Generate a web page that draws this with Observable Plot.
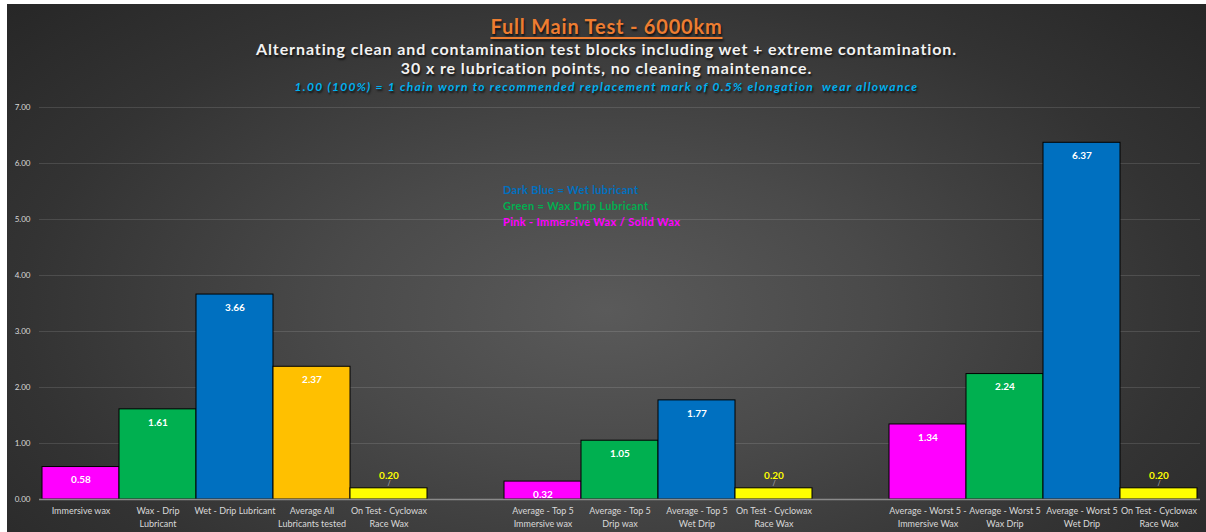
<!DOCTYPE html>
<html>
<head>
<meta charset="utf-8">
<script src="https://cdn.jsdelivr.net/npm/d3@7"></script>
<script src="https://cdn.jsdelivr.net/npm/@observablehq/plot@0.6"></script>
<style>
  html, body { margin: 0; padding: 0; background: #ffffff; }
  #chart {
    position: absolute; left: 7px; top: 4px; width: 1199px; height: 528px; overflow: hidden;
    background: radial-gradient(ellipse 75% 95% at 50% 58%, #5a5a5a 0%, #4a4a4a 30%, #333333 65%, #222222 100%);
    font-family: Lato, "Open Sans", sans-serif;
  }
  .t { position: absolute; left: 0; width: 100%; text-align: center; white-space: nowrap; text-shadow: 1px 2px 2px rgba(0,0,0,0.7); }
  #title { top: 10px; font-size: 20px; font-weight: bold; color: #ED7D31; letter-spacing: 0.8px; text-decoration: underline; text-underline-offset: 3px; text-decoration-thickness: 2px; }
  #sub1 { top: 35px; font-size: 16px; font-weight: bold; color: #f2f2f2; letter-spacing: 0.9px; }
  #sub2 { top: 54px; font-size: 16px; font-weight: bold; color: #f2f2f2; letter-spacing: 0.9px; }
  #sub3 { top: 75px; font-size: 12px; font-weight: bold; font-style: italic; color: #00B0F0; letter-spacing: 1.3px; }
  #legend { position: absolute; left: 496px; top: 178px; font-size: 11px; font-weight: bold; line-height: 16px; letter-spacing: 0.35px; }
  #plot { position: absolute; left: 0; top: 91px; }
</style>
</head>
<body>
<div id="chart">
  <div class="t" id="title">Full Main Test - 6000km</div>
  <div class="t" id="sub1">Alternating clean and contamination test blocks including wet + extreme contamination.</div>
  <div class="t" id="sub2">30 x re lubrication points, no cleaning maintenance.</div>
  <div class="t" id="sub3">1.00 (100%) = 1 chain worn to recommended replacement mark of 0.5% elongation&nbsp; wear allowance</div>
  <div id="plot"></div>
  <div id="legend"></div>
</div>
<script>
// ---- data ----
const categories = [
  "Immersive wax", "Wax - Drip\nLubricant", "Wet - Drip Lubricant", "Average All\nLubricants tested", "On Test - Cyclowax\nRace Wax",
  "",
  "Average - Top 5\nImmersive wax", "Average - Top 5\nDrip wax", "Average - Top 5\nWet Drip", "On Test - Cyclowax\nRace Wax",
  "",
  "Average - Worst 5 -\nImmersive Wax", "Average - Worst 5\nWax Drip", "Average - Worst 5\nWet Drip", "On Test - Cyclowax\nRace Wax"
];
const values = [0.58, 1.61, 3.66, 2.37, 0.20, null, 0.32, 1.05, 1.77, 0.20, null, 1.34, 2.24, 6.37, 0.20];
const colors = ["#FF00FF", "#00B050", "#0070C0", "#FFC000", "#FFFF00", null, "#FF00FF", "#00B050", "#0070C0", "#FFFF00", null, "#FF00FF", "#00B050", "#0070C0", "#FFFF00"];
const yTicks = [0, 1, 2, 3, 4, 5, 6, 7];
const legendLines = [
  {text: "Dark Blue = Wet lubricant", color: "#0070C0"},
  {text: "Green = Wax Drip Lubricant", color: "#00B050"},
  {text: "Pink - Immersive Wax / Solid Wax", color: "#FF00FF"}
];

// ---- build ----
const rows = categories.map((c, i) => ({i, label: c, value: values[i], color: colors[i]}));
const bars = rows.filter(d => d.value != null);
const inside = bars.filter(d => d.color !== "#FFFF00");
const above = bars.filter(d => d.color === "#FFFF00");

const plot = Plot.plot({
  width: 1199,
  height: 437,
  marginTop: 12,
  marginBottom: 33,
  marginLeft: 32,
  marginRight: 6,
  style: {background: "transparent", fontFamily: "Lato, 'Open Sans', sans-serif"},
  x: {domain: rows.map(d => d.i), padding: 0, axis: null, label: null},
  y: {domain: [0, 7], axis: null, label: null},
  marks: [
    Plot.gridY(yTicks, {stroke: "#ffffff", strokeOpacity: 0.12, strokeWidth: 1.2}),
    Plot.axisY(yTicks, {tickSize: 0, tickPadding: 9, fontSize: 8, fill: "#d9d9d9", label: null, tickFormat: d => d.toFixed(2)}),
    Plot.axisX({tickSize: 0, tickPadding: 6, fontSize: 9, fill: "#d9d9d9", lineHeight: 1.4, label: null, tickFormat: i => categories[i]}),
    Plot.barY(bars, {x: "i", y: "value", fill: "color", stroke: "#000000", strokeWidth: 1}),
    Plot.ruleY([0], {stroke: "#8a8a8a", strokeWidth: 1.5}),
    Plot.text(inside, {x: "i", y: "value", text: d => d.value.toFixed(2), dy: 13, fill: "#ffffff", fontWeight: "bold", fontSize: 10}),
    Plot.text(above, {x: "i", y: "value", text: d => d.value.toFixed(2), dy: -13, fill: "#FFFF00", fontWeight: "bold", fontSize: 10}),
    Plot.text(above, {x: "i", y: "value", text: () => "/", dy: -5, fill: "#bfbfbf", fontSize: 7})
  ]
});
document.getElementById("plot").appendChild(plot);

const lg = document.getElementById("legend");
legendLines.forEach(l => {
  const div = document.createElement("div");
  div.textContent = l.text;
  div.style.color = l.color;
  lg.appendChild(div);
});
</script>
</body>
</html>
